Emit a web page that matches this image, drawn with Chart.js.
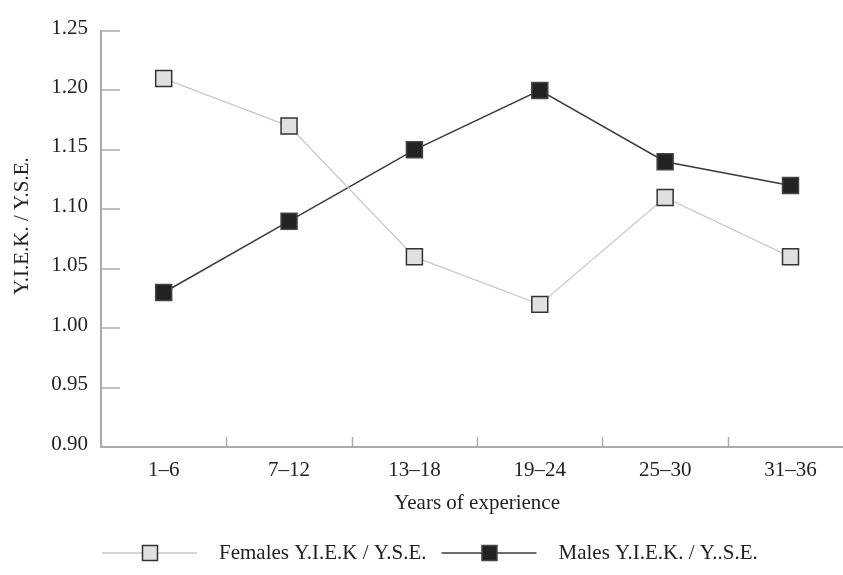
<!DOCTYPE html>
<html>
<head>
<meta charset="utf-8">
<script src="https://cdn.jsdelivr.net/npm/chart.js@4.4.1/dist/chart.umd.min.js"></script>
<style>
  html, body { margin: 0; padding: 0; background: #fff; overflow: hidden; }
  #wrap { width: 866px; height: 575px; }
</style>
</head>
<body>
<div id="wrap"><canvas id="grafico" width="866" height="575"></canvas></div>
<script>
// Datos
const categorias = ["1–6", "7–12", "13–18", "19–24", "25–30", "31–36"];
const mujeres = [1.21, 1.17, 1.06, 1.02, 1.11, 1.06];
const hombres = [1.03, 1.09, 1.15, 1.20, 1.14, 1.12];
const etiquetas = ["Females Y.I.E.K / Y.S.E.", "Males Y.I.E.K. / Y..S.E."];
const tituloY = "Y.I.E.K. / Y.S.E.";

const fuente = "'Liberation Serif', 'Times New Roman', serif";
const colorEje = "#aaaaaa";
const colorTexto = "#222222";

// Plugin: marcas de los ejes hacia dentro (como en el original)
const marcasInternas = {
    id: "marcasInternas",
    afterDatasetsDraw(chart) {
        const ctx = chart.ctx;
        const x = chart.scales.x;
        const y = chart.scales.y;
        ctx.save();
        ctx.strokeStyle = colorEje;
        ctx.lineWidth = 1.5;
        // marcas del eje Y
        y.ticks.forEach((t, i) => {
            const py = Math.round(y.getPixelForTick(i));
            ctx.beginPath();
            ctx.moveTo(chart.chartArea.left, py);
            ctx.lineTo(chart.chartArea.left + 19, py);
            ctx.stroke();
        });
        // marcas del eje X entre categorías
        const ancho = x.getPixelForTick(1) - x.getPixelForTick(0);
        for (let i = 1; i < categorias.length; i++) {
            const px = Math.round(x.getPixelForTick(i) - ancho / 2) + 0.5;
            ctx.beginPath();
            ctx.moveTo(px, chart.chartArea.bottom);
            ctx.lineTo(px, chart.chartArea.bottom - 10);
            ctx.stroke();
        }
        // título del eje Y (algo por encima del centro, como en el original)
        ctx.fillStyle = colorTexto;
        ctx.font = "21px " + fuente;
        ctx.textAlign = "center";
        ctx.textBaseline = "middle";
        ctx.translate(22, 226);
        ctx.rotate(-Math.PI / 2);
        ctx.fillText(tituloY, 0, 0);
        ctx.restore();
    }
};

// Plugin: leyenda con línea y marcador
const leyenda = {
    id: "leyendaLinea",
    afterDraw(chart) {
        const ctx = chart.ctx;
        ctx.save();
        ctx.font = "21px " + fuente;
        ctx.textBaseline = "middle";
        let xPos = 102;
        const yPos = 553;
        chart.data.datasets.forEach((ds) => {
            // línea de muestra
            ctx.strokeStyle = ds.borderColor;
            ctx.lineWidth = ds.borderWidth;
            ctx.beginPath();
            ctx.moveTo(xPos, yPos);
            ctx.lineTo(xPos + 95, yPos);
            ctx.stroke();
            // marcador cuadrado
            const lado = 15;
            ctx.fillStyle = ds.pointBackgroundColor;
            ctx.strokeStyle = ds.pointBorderColor;
            ctx.lineWidth = ds.pointBorderWidth;
            ctx.fillRect(xPos + 48 - lado / 2, yPos - lado / 2, lado, lado);
            ctx.strokeRect(xPos + 48 - lado / 2, yPos - lado / 2, lado, lado);
            // texto
            ctx.fillStyle = colorTexto;
            ctx.fillText(ds.label, xPos + 117, yPos);
            xPos += 117 + ctx.measureText(ds.label).width + 15;
        });
        ctx.restore();
    }
};

const ctx = document.getElementById("grafico").getContext("2d");
new Chart(ctx, {
    type: "line",
    data: {
        labels: categorias,
        datasets: [
            {
                label: etiquetas[0],
                data: mujeres,
                borderColor: "#c8c8c8",
                borderWidth: 1.3,
                pointStyle: "rect",
                pointRadius: 11.3,
                pointBackgroundColor: "#e0e0e0",
                pointBorderColor: "#333333",
                pointBorderWidth: 1.5,
                tension: 0,
            },
            {
                label: etiquetas[1],
                data: hombres,
                borderColor: "#3a3a3a",
                borderWidth: 1.5,
                pointStyle: "rect",
                pointRadius: 11.3,
                pointBackgroundColor: "#222222",
                pointBorderColor: "#444444",
                pointBorderWidth: 1.5,
                tension: 0,
            },
        ],
    },
    options: {
        responsive: false,
        animation: false,
        layout: { padding: { top: 31, right: 3, left: 0, bottom: 0 } },
        plugins: {
            legend: { display: false },
            tooltip: { enabled: false },
        },
        scales: {
            x: {
                type: "category",
                offset: true,
                afterFit(scale) { scale.height = 128; },
                grid: { offset: true, drawOnChartArea: false, drawTicks: false },
                border: { color: colorEje, width: 2 },
                ticks: { color: colorTexto, padding: 11, font: { family: fuente, size: 21 } },
                title: {
                    display: true,
                    text: "Years of experience",
                    color: colorTexto,
                    font: { family: fuente, size: 21 },
                    padding: { top: 0, bottom: 59 },
                },
            },
            y: {
                min: 0.9,
                max: 1.25,
                afterFit(scale) { scale.width = 101; },
                grid: { drawOnChartArea: false, drawTicks: false },
                border: { color: colorEje, width: 2 },
                ticks: {
                    stepSize: 0.05,
                    padding: 13,
                    labelOffset: -3,
                    color: colorTexto,
                    font: { family: fuente, size: 21 },
                    callback: (v) => v.toFixed(2),
                },
                title: { display: false },
            },
        },
    },
    plugins: [marcasInternas, leyenda],
});
</script>
</body>
</html>
